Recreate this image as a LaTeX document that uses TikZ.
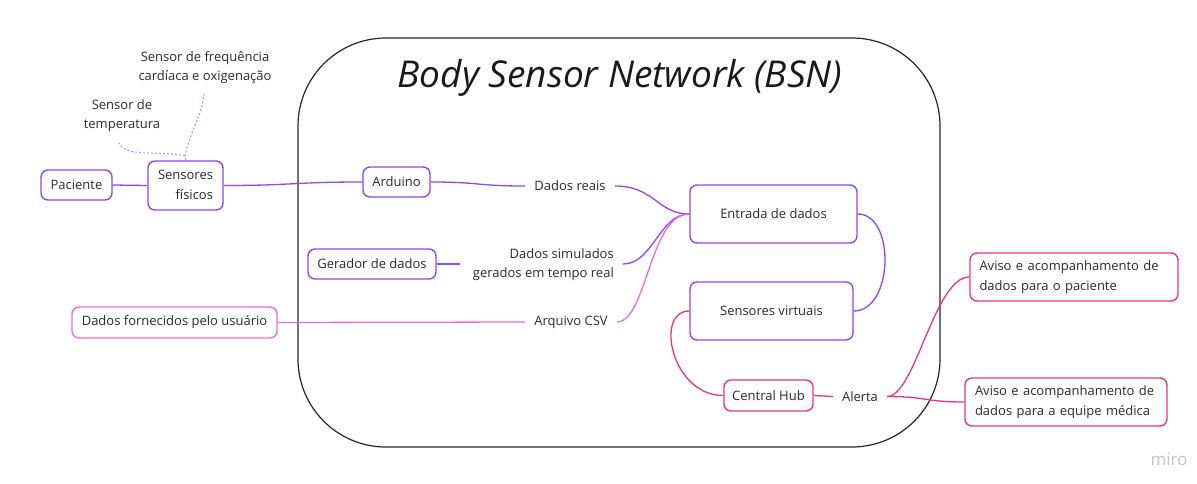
\documentclass[tikz,border=0pt]{standalone}
\usepackage{fontspec}
\setmainfont{Open Sans}
\definecolor{violet}{HTML}{9146EC}
\definecolor{rosa}{HTML}{EE6BDD}
\definecolor{carmim}{HTML}{E2368A}
\definecolor{texto}{HTML}{2B2B2B}
\definecolor{marca}{HTML}{C4C4C4}
\tikzset{
  base/.style={font=\fontsize{13}{19.5}\selectfont, text=texto},
  caixa/.style={base, draw, rounded corners=7pt, line width=1.4pt, fill=white, inner sep=0pt},
  pbox/.style={caixa, draw=violet},
  rbox/.style={caixa, draw=rosa},
  cbox/.style={caixa, draw=carmim},
  rotulo/.style={base, inner xsep=9pt, inner ysep=2pt},
  lig/.style={line width=1.3pt},
  pontilhado/.style={draw=violet!65, line width=1pt, dash pattern=on 2pt off 2pt},
}
\begin{document}
\begin{tikzpicture}[x=1pt, y=-1pt]
\useasboundingbox (0,0) rectangle (1197,483);

% BSN container
\node[draw=black!85, line width=1.2pt, rounded corners=88pt, minimum width=642pt, minimum height=409pt, inner sep=0pt] (bsn) at (619,242.5) {};
\node[font=\fontsize{37}{44}\selectfont\itshape, text=black!90] (titulo) at (620,78) {Body Sensor Network (BSN)};

% boxes
\node[pbox, minimum width=71pt, minimum height=30pt] (pac) at (76.5,185) {Paciente};
\node[pbox, minimum width=75pt, minimum height=49pt] (sens) at (185.5,185.5) {\begin{tabular}{@{}r@{}}Sensores\\ físicos\end{tabular}};
\node[pbox, minimum width=67pt, minimum height=30pt] (ard) at (396.5,182) {Arduino};
\node[pbox, minimum width=128pt, minimum height=30pt] (ger) at (372,264) {Gerador de dados};
\node[rbox, minimum width=205pt, minimum height=31pt] (forn) at (174.5,322.5) {Dados fornecidos pelo usuário};
\node[pbox, minimum width=167pt, minimum height=58pt] (ent) at (773.5,214) {Entrada de dados};
\node[pbox, minimum width=163pt, minimum height=58pt] (virt) at (771.5,311) {Sensores virtuais};
\node[cbox, minimum width=89pt, minimum height=31pt] (hub) at (768.5,395.5) {Central Hub};
\node[cbox, minimum width=208pt, minimum height=48pt, inner xsep=9.5pt, text width=189pt, align=left] (avp) at (1074,277) {Aviso e acompanhamento de\\ dados para o paciente};
\node[cbox, minimum width=202pt, minimum height=48pt, inner xsep=10pt, text width=182pt, align=left] (ave) at (1066,402) {Aviso e acompanhamento de\\ dados para a equipe médica};

% free labels
\node[rotulo] (dr) at (570,186) {Dados reais};
\node[rotulo, anchor=east] (dsim) at (623,264) {\begin{tabular}{@{}r@{}}Dados simulados\\ gerados em tempo real\end{tabular}};
\node[rotulo] (csv) at (571,322) {Arquivo CSV};
\node[rotulo] (alerta) at (860,396.5) {Alerta};
\node[base] (temp) at (122,115) {\begin{tabular}{@{}c@{}}Sensor de\\ temperatura\end{tabular}};
\node[base] (freq) at (205,67) {\begin{tabular}{@{}c@{}}Sensor de frequência\\ cardíaca e oxigenação\end{tabular}};
\node[font=\fontsize{17}{20}\selectfont, text=marca] (miro) at (1169,459) {miro};

% dotted sensor branches
\coordinate (jun) at (185,156);
\coordinate (tempfim) at (119,143);
\coordinate (freqfim) at (204,92);
\draw[pontilhado] (sens.north) -- (jun) .. controls (190,130) and (203,115) .. (freqfim);
\draw[pontilhado] (jun) .. controls (160,150) and (125,158) .. (tempfim);

% connectors
\draw[lig, violet] (pac.east) -- (sens.west);
\draw[lig, violet] (sens.east) .. controls +(70,0) and +(-70,0) .. (ard.west);
\draw[lig, violet] (ard.east) .. controls +(50,0) and +(-50,0) .. (dr.west);
\draw[lig, violet] (dr.east) .. controls +(40,0) and +(-32,0) .. (ent.west);
\draw[lig, violet] (dsim.east) .. controls +(30,0) and +(-30,0) .. (ent.west);
\draw[lig, rosa] (csv.east) .. controls +(30,0) and +(-40,0) .. (ent.west);
\draw[lig, violet] (ger.east) -- ([xshift=-4pt]dsim.west |- ger.east);
\draw[lig, rosa] (forn.east) -- (csv.west);
\draw[lig, violet] (ent.east) .. controls +(38,0) and +(40,0) .. (virt.east);
\draw[lig, carmim] (virt.west) .. controls +(-35,0) and +(-52,0) .. (hub.west);
\draw[lig, carmim] (hub.east) -- (alerta.west);
\draw[lig, carmim] (alerta.east) .. controls +(28,0) and +(-35,0) .. (avp.west);
\draw[lig, carmim] (alerta.east) .. controls +(40,0) and +(-40,0) .. (ave.west);
\end{tikzpicture}
\end{document}
